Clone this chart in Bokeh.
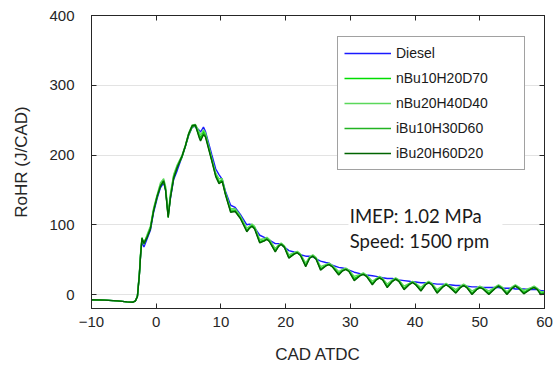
from bokeh.plotting import figure
from bokeh.models import (Range1d, FixedTicker, LinearAxis, Legend, LegendItem,
                          Label, BoxAnnotation, CustomJSTickFormatter)
from bokeh.embed import file_html
from bokeh.resources import INLINE

# ---- data ----
cad = [-10, -8, -6, -4.5, -3.6, -3.2, -2.9, -2.6, -2.4, -2.2, -1.9, -1.4, -0.9, -0.4,
       0.15, 0.65, 1.15, 1.45, 1.85, 2.2, 2.7, 3.25, 4.0, 4.5, 5.0, 5.55, 6.05, 6.6,
       6.85, 7.3, 7.6, 8.6, 9.2, 9.7, 10.2, 10.7, 11.5, 12.2, 13.0,
       14.0, 14.4, 14.8, 15.2, 16.0, 16.7, 17.1, 17.5, 18.4, 18.9, 19.3, 19.8,
       20.5, 21.3, 21.8, 22.3, 23.1, 23.7, 24.2, 24.7, 25.4, 26.2, 26.7, 27.2,
       28.2, 28.8, 29.3, 29.8, 30.6, 31.5, 32.0, 32.5, 33.4, 34.0, 34.5, 35.0,
       35.7, 36.5, 37.0, 37.5, 38.3, 39.1, 39.6, 40.1, 40.9, 41.6, 42.1, 42.6,
       43.4, 44.3, 44.8, 45.3, 46.3, 47.0, 47.5, 48.0, 48.8, 49.5, 50.0, 50.5,
       51.4, 52.4, 52.9, 53.4, 54.2, 55.0, 55.5, 56.0, 56.8, 57.9, 58.4, 58.9,
       59.4, 60]

diesel = [-7.5, -8, -9, -10.5, -11, -9, -2, 30, 58, 76, 68, 80, 92, 118,
          138, 153, 160, 150, 114, 138, 165, 178, 198, 212, 228, 240, 241, 236,
          233, 240, 234, 200, 180, 172, 165, 148, 128, 125, 115,
          100, 101, 100, 96, 85, 82, 80, 78, 73, 73, 72, 68,
          63, 61, 60, 57, 55, 55, 54, 51, 48, 46, 45, 42,
          39, 38, 37, 35, 32, 30, 29, 28, 27, 26, 25, 24,
          23, 23, 22, 21, 20, 19, 18, 18, 17, 17, 16, 16,
          15, 15, 14, 14, 13, 13, 12, 12, 11, 11, 10, 10,
          10, 10, 10, 9, 9, 9, 8, 8, 8, 7, 7, 7,
          6, 5]

nbu10h20d70 = [-7.5, -8, -9, -10.5, -11, -9, -2, 30, 60, 80, 74, 84, 96, 122,
               142, 157, 164, 152, 112, 142, 170, 184, 198, 213, 230, 241, 243, 230,
               224, 234, 230, 193, 172, 162, 164, 145, 121, 121, 111,
               92, 96, 99, 96, 76, 78, 80, 77, 63, 70, 73, 69,
               54, 59, 61, 57, 42, 53, 56, 52, 37, 42, 44, 41,
               30, 35, 37, 34, 23, 28, 30, 27, 16, 22, 25, 22,
               12, 20, 23, 20, 9, 15, 18, 15, 7, 15, 18, 15,
               4, 12, 15, 12, 4, 11, 14, 11, 2, 8, 11, 9,
               2, 10, 13, 10, 2, 10, 13, 10, 3, 9, 11, 8,
               2, 3]

nbu20h40d40 = [-7.5, -8, -9, -10.5, -11, -9, -1, 32, 62, 82, 72, 86, 98, 124,
               143, 160, 166, 155, 116, 145, 172, 186, 200, 214, 231, 243, 244, 234,
               228, 236, 232, 195, 174, 166, 166, 146, 123, 123, 113,
               95, 98, 101, 98, 79, 80, 82, 79, 66, 71, 74, 70,
               57, 60, 62, 58, 45, 54, 57, 53, 40, 43, 45, 42,
               33, 36, 38, 35, 26, 29, 31, 28, 19, 23, 26, 23,
               15, 21, 24, 21, 12, 16, 19, 16, 10, 16, 19, 16,
               7, 13, 16, 13, 7, 12, 15, 12, 5, 9, 12, 10,
               5, 11, 14, 11, 4, 11, 14, 11, 6, 10, 12, 9,
               4, 4]

ibu10h30d60 = [-7.5, -8, -9, -10.5, -11, -9, -2, 29, 59, 79, 75, 83, 95, 121,
               140, 156, 162, 150, 110, 140, 168, 183, 197, 212, 228, 240, 242, 228,
               222, 231, 228, 192, 170, 161, 163, 144, 119, 120, 110,
               91, 95, 98, 95, 75, 77, 80, 76, 62, 69, 72, 68,
               53, 58, 60, 56, 41, 52, 55, 51, 36, 41, 43, 40,
               29, 34, 36, 33, 21, 27, 29, 26, 15, 21, 24, 21,
               11, 19, 22, 19, 8, 15, 18, 14, 6, 14, 17, 14,
               3, 11, 14, 11, 3, 10, 13, 10, 1, 7, 10, 8,
               1, 9, 12, 9, 1, 9, 12, 9, 2, 8, 10, 7,
               1, 2]

ibu20h60d20 = [-7.5, -8, -9, -10.5, -11, -9, -3, 28, 58, 81, 73, 82, 94, 120,
               141, 155, 163, 149, 111, 139, 167, 182, 199, 213, 230, 242, 243, 226,
               220, 229, 226, 191, 169, 159, 162, 143, 118, 119, 109,
               90, 95, 98, 94, 74, 77, 79, 76, 61, 69, 72, 68,
               52, 58, 60, 56, 40, 52, 55, 51, 35, 41, 43, 40,
               28, 34, 36, 33, 20, 27, 29, 26, 14, 21, 24, 21,
               10, 19, 22, 19, 7, 14, 17, 14, 5, 14, 17, 14,
               2, 11, 14, 11, 2, 10, 13, 10, 0, 7, 10, 8,
               0, 9, 12, 9, 0, 9, 12, 9, 1, 8, 10, 7,
               0, 1]

series_names = ["Diesel", "nBu10H20D70", "nBu20H40D40", "iBu10H30D60", "iBu20H60D20"]
series_values = [diesel, nbu10h20d70, nbu20h40d40, ibu10h30d60, ibu20h60d20]
series_colors = ["#1a1aff", "#00dd00", "#5ad85a", "#22b322", "#006400"]

x_ticks = [-10, 0, 10, 20, 30, 40, 50, 60]
y_ticks = [0, 100, 200, 300, 400]

FONT = "Liberation Sans"
AX = "#262626"

p = figure(width=555, height=369, output_backend="svg", toolbar_location=None,
           x_range=Range1d(-10, 60), y_range=Range1d(-20, 400),
           min_border_left=91, min_border_right=11, min_border_top=15,
           min_border_bottom=61)
p.outline_line_color = AX
p.outline_line_width = 1
p.background_fill_color = "white"
p.border_fill_color = "white"

p.xgrid.visible = False
p.ygrid.ticker = FixedTicker(ticks=y_ticks)
p.ygrid.grid_line_color = "#e3e3e3"
p.ygrid.grid_line_width = 1

for ax in (p.xaxis[0], p.yaxis[0]):
    ax.major_tick_in = 5
    ax.major_tick_out = 0
    ax.minor_tick_in = 0
    ax.minor_tick_out = 0
    ax.axis_line_color = AX
    ax.major_tick_line_color = AX
    ax.major_label_text_font = FONT
    ax.major_label_text_font_size = "15px"
    ax.major_label_text_color = AX
    ax.axis_label_text_font = FONT
    ax.axis_label_text_font_size = "17px"
    ax.axis_label_text_font_style = "normal"
    ax.axis_label_text_color = AX

p.xaxis[0].ticker = FixedTicker(ticks=x_ticks)
p.yaxis[0].ticker = FixedTicker(ticks=y_ticks)
p.xaxis[0].axis_label = "CAD ATDC"
p.yaxis[0].axis_label = "RoHR (J/CAD)"
p.xaxis[0].major_label_standoff = 8
p.xaxis[0].axis_label_standoff = 15
p.yaxis[0].major_label_standoff = 17
p.yaxis[0].axis_label_standoff = 15

blank = CustomJSTickFormatter(code="return ''")
top_ax = LinearAxis(ticker=FixedTicker(ticks=x_ticks), formatter=blank,
                    major_tick_in=5, major_tick_out=0, minor_tick_in=0, minor_tick_out=0,
                    axis_line_color=AX, major_tick_line_color=AX,
                    major_label_standoff=0, major_label_text_font_size="1px")
right_ax = LinearAxis(ticker=FixedTicker(ticks=y_ticks), formatter=blank,
                      major_tick_in=5, major_tick_out=0, minor_tick_in=0, minor_tick_out=0,
                      axis_line_color=AX, major_tick_line_color=AX,
                      major_label_standoff=0, major_label_text_font_size="1px")
p.add_layout(top_ax, "above")
p.add_layout(right_ax, "right")

items = []
for name, vals, col in zip(series_names, series_values, series_colors):
    r = p.line(cad, vals, line_color=col, line_width=1.4)
    items.append(LegendItem(label=name, renderers=[r]))

# text box for operating condition
p.add_layout(BoxAnnotation(left=29.7, right=53.5, bottom=64, top=137,
                           fill_color="white", fill_alpha=1.0, line_color=None))
for txt, yy in (("IMEP: 1.02 MPa", 112.0), ("Speed: 1500 rpm", 76.5)):
    p.add_layout(Label(x=29.9, y=yy, text=txt, text_font="Lato",
                       text_font_size="18.5px", text_color="#1a1a1a",
                       text_baseline="alphabetic", text_align="left"))

legend = Legend(items=items, location=(246, 138), orientation="vertical",
                label_text_font=FONT, label_text_font_size="14px",
                label_text_color="#1a1a1a",
                glyph_width=47, glyph_height=20, label_height=20,
                label_standoff=5, spacing=5, padding=6, margin=0,
                label_width=122,
                border_line_color="#444444", border_line_width=1,
                background_fill_color="white", background_fill_alpha=1.0)
p.add_layout(legend)

open("out.html", "w").write(file_html(p, INLINE))
